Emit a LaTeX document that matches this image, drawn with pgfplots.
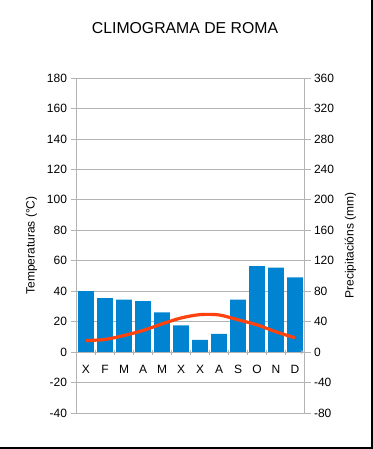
\documentclass[border=0pt]{standalone}
\usepackage{pgfplots}
\pgfplotsset{compat=1.18}
\usepackage{fontspec}
\setmainfont{Liberation Sans}
\definecolor{barblue}{HTML}{0084D1}
\definecolor{lineorange}{HTML}{FF420E}
\definecolor{gridgray}{HTML}{B3B3B3}
\begin{document}
\begin{tikzpicture}
\path[use as bounding box] (0,0) rectangle (373bp,449bp);
\pgfplotsset{
 common/.style={
  at={(76.5bp,36bp)}, anchor=south west,
  scale only axis, width=228bp, height=335bp,
  xmin=-0.5, xmax=11.5,
  tick label style={font=\fontsize{12bp}{14bp}\selectfont},
  label style={font=\fontsize{12bp}{14bp}\selectfont},
  /pgf/number format/assume math mode=true,
  axis line style={gridgray,-,line width=0.8bp},
  tick style={gridgray, line width=0.8bp},
  major tick length=6bp,
  minor tick length=5bp,
  tick align=outside,
 }
}
\begin{axis}[common,
  axis x line=none, axis y line*=right,
  ymin=-80, ymax=360, ytick={-80,-40,...,360},
  ymajorgrids, grid style={gridgray, line width=0.8bp},
  ylabel={Precipitacións (mm)},
  ylabel shift=4bp,
]
\addplot[ybar, bar width=0.84, fill=barblue, draw=none] coordinates {
(0,80) (1,71) (2,69) (3,67) (4,52) (5,35) (6,16) (7,24) (8,69) (9,113) (10,111) (11,98)};
\end{axis}
\begin{axis}[common,
  axis x line=middle, axis y line*=left,
  ymin=-40, ymax=180, ytick={-40,-20,...,180},
  xtick={0,...,11},
  xticklabels={X,F,M,A,M,X,X,A,S,O,N,D},
  xticklabel style={yshift=-7bp},
  major x tick style={draw=none},
  minor xtick={-0.5,0.5,...,11.5},
  ylabel={Temperaturas (°C)},
  ylabel shift=3bp,
]
\addplot[lineorange, line width=3.2bp, smooth] coordinates {
(0,7.6) (1,8.3) (2,10.9) (3,14.2) (4,18.5) (5,22.4) (6,24.6) (7,24.4) (8,21.2) (9,17.9) (10,13.3) (11,9.4)};
\end{axis}
\node[font=\fontsize{15.8bp}{19bp}\selectfont] at (185bp,421bp) {CLIMOGRAMA DE ROMA};
\draw[line width=2bp] (0,1bp) -- (372bp,1bp) -- (372bp,449bp);
\end{tikzpicture}
\end{document}
